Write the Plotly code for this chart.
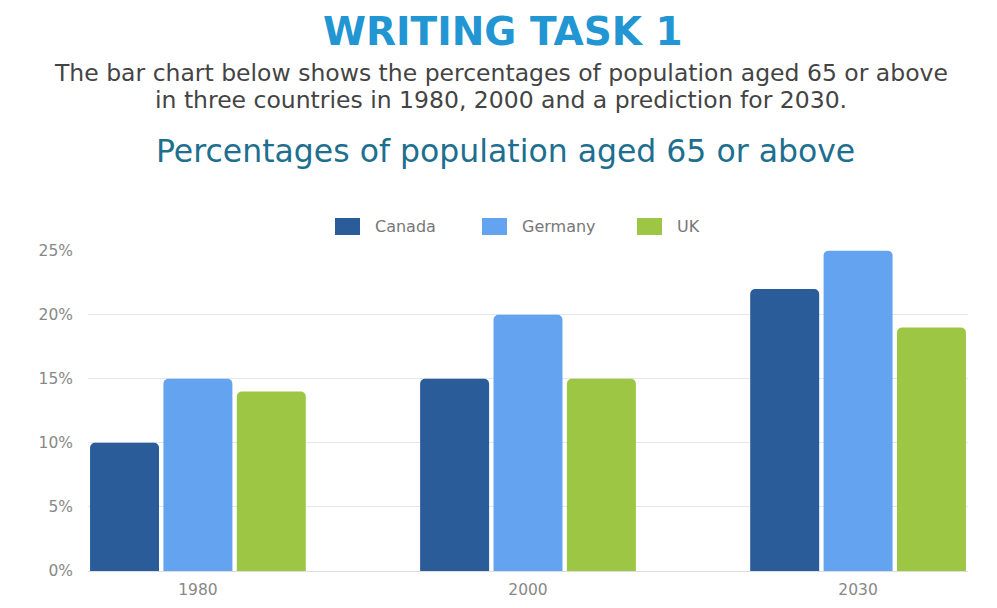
import plotly.graph_objects as go

years = ["1980", "2000", "2030"]
canada = [10, 15, 22]
germany = [15, 20, 25]
uk = [14, 15, 19]
series_names = ["Canada", "Germany", "UK"]
colors = ["#2A5C99", "#64A3EF", "#9DC645"]
y_ticks = [0, 5, 10, 15, 20, 25]
y_tick_labels = ["0%", "5%", "10%", "15%", "20%", "25%"]

W, H = 997, 608
ML, MR, MT, MB = 88, 29, 250, 37
PW, PH = W - ML - MR, H - MT - MB


def px_x(x):
    return (x - ML) / PW


def px_y(y):
    return 1 + (MT - y) / PH


fig = go.Figure()
for name, vals, col in zip(series_names, [canada, germany, uk], colors):
    fig.add_trace(go.Bar(name=name, x=years, y=vals, marker=dict(color=col, line=dict(width=0))))

annotations = [
    dict(text="<b>WRITING TASK 1</b>", x=px_x(W / 2 + 4), y=px_y(31),
         font=dict(family="DejaVu Sans", size=39, color="#2196D3")),
    dict(text="The bar chart below shows the percentages of population aged 65 or above",
         x=px_x(W / 2 + 2), y=px_y(73), font=dict(family="DejaVu Sans", size=23.5, color="#444444")),
    dict(text="in three countries in 1980, 2000 and a prediction for 2030.",
         x=px_x(W / 2 + 2), y=px_y(100), font=dict(family="DejaVu Sans", size=23.5, color="#444444")),
    dict(text="Percentages of population aged 65 or above", x=px_x(505), y=px_y(151),
         font=dict(family="DejaVu Sans", size=31.5, color="#1E6F8F")),
]
for a in annotations:
    a.update(xref="paper", yref="paper", xanchor="center", yanchor="middle", showarrow=False)

# custom legend (larger swatches than plotly's default)
legend_items = [(335, 360), (482, 507), (637, 662)]
shapes = []
for (x0, x1), name, col in zip(legend_items, series_names, colors):
    shapes.append(dict(type="rect", xref="paper", yref="paper", x0=px_x(x0), x1=px_x(x1),
                       y0=px_y(235), y1=px_y(218), fillcolor=col, line=dict(width=0)))
    annotations.append(dict(text=name, xref="paper", yref="paper", x=px_x(x1 + 13), y=px_y(226.5),
                            xanchor="left", yanchor="middle", showarrow=False,
                            font=dict(family="DejaVu Sans", size=16, color="#777777")))

fig.update_layout(
    width=W, height=H,
    paper_bgcolor="white", plot_bgcolor="white",
    margin=dict(l=ML, r=MR, t=MT, b=MB, autoexpand=False),
    barmode="group", bargap=0.333, bargroupgap=0.06,
    barcornerradius=5,
    font=dict(family="DejaVu Sans", color="#888888"),
    showlegend=False,
    xaxis=dict(range=[-0.333, 2.333], showgrid=False, showline=True, linecolor="#dddddd",
               linewidth=1, ticks="", ticklabelstandoff=4,
               tickfont=dict(family="DejaVu Sans", size=15.5, color="#888888")),
    yaxis=dict(range=[0, 25.05], tickvals=y_ticks, ticktext=y_tick_labels, showgrid=True,
               gridcolor="#e6e6e6", zeroline=False, ticks="", ticklabelstandoff=14,
               tickfont=dict(family="DejaVu Sans", size=15.5, color="#888888")),
    annotations=annotations,
    shapes=shapes,
)

fig.write_html("out.html")
